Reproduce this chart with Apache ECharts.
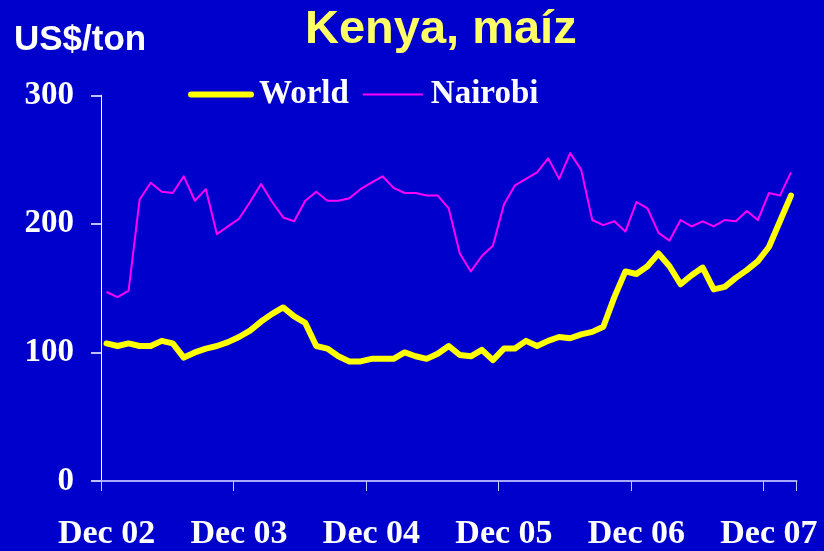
<!DOCTYPE html>
<html>
<head>
<meta charset="utf-8">
<script src="https://cdn.jsdelivr.net/npm/echarts@6/dist/echarts.min.js"></script>
<style>
html,body{margin:0;padding:0;background:#0000CC;}
#chart{width:824px;height:551px;}
</style>
</head>
<body>
<div id="chart"></div>
<script>
// Monthly categories Dec 02 .. Feb 08
var monthNames = ['Dec','Jan','Feb','Mar','Apr','May','Jun','Jul','Aug','Sep','Oct','Nov'];
var startYear = 2;
var categories = [];
for (var i = 0; i < 63; i++) {
  var yr = startYear + Math.floor((i + 11) / 12);
  categories.push(monthNames[i % 12] + ' ' + (yr < 10 ? '0' + yr : '' + yr));
}
categories[0] = 'Dec 02';

var worldValues = [
  107, 105, 107, 105, 105, 109, 107, 96, 100, 103, 105, 108,
  112, 117, 124, 130, 135, 128, 123, 105, 103, 97, 93, 93,
  95, 95, 95, 100, 97, 95, 99, 105, 98, 97, 102, 94,
  103, 103, 109, 105, 109, 112, 111, 114, 116, 120, 143, 163,
  161, 167, 177, 167, 153, 160, 166, 149, 151, 158, 164, 171,
  182, 202, 222
];
var nairobiValues = [
  147, 143, 148, 219, 232, 225, 224, 237, 218, 227, 192, 198,
  204, 217, 231, 217, 205, 202, 218, 225, 218, 218, 220, 227,
  232, 237, 228, 224, 224, 222, 222, 212, 177, 163, 175, 183,
  215, 230, 235, 240, 251, 235, 255, 242, 203, 199, 202, 194,
  217, 212, 193, 187, 203, 198, 202, 198, 203, 202, 210, 203,
  224, 222, 240
];
var yTicks = [0, 100, 200, 300];

var chart = echarts.init(document.getElementById('chart'), null, {renderer: 'canvas'});
chart.setOption({
  animation: false,
  backgroundColor: '#0000CC',
  title: [
    {
      text: 'Kenya, maíz', left: 305, top: 7, padding: 0,
      textStyle: {color: '#FFFF66', fontFamily: 'Liberation Sans, Arial, sans-serif', fontWeight: 'bold', fontSize: 47}
    },
    {
      text: 'US$/ton', left: 14, top: 23, padding: 0,
      textStyle: {color: '#FFFFFF', fontFamily: 'Liberation Sans, Arial, sans-serif', fontWeight: 'bold', fontSize: 35}
    }
  ],
  legend: {
    left: 188, top: 78, padding: 0,
    itemWidth: 60, itemHeight: 10, itemGap: 13,
    textStyle: {color: '#FFFFFF', fontFamily: 'Liberation Serif, Times New Roman, serif', fontWeight: 'bold', fontSize: 33, padding: [0, 0, 0, 3]},
    data: [
      {name: 'World', itemStyle: {color: 'rgba(0,0,0,0)', borderWidth: 0, opacity: 0}, lineStyle: {width: 6, cap: 'round', color: '#FFFF00'}},
      {name: 'Nairobi', itemStyle: {color: 'rgba(0,0,0,0)', borderWidth: 0, opacity: 0}, lineStyle: {width: 2, color: '#FF00FF'}}
    ]
  },
  grid: {left: 101, right: 27.5, top: 95.3, bottom: 69.6, containLabel: false},
  xAxis: {
    type: 'category',
    data: categories,
    boundaryGap: true,
    axisLine: {show: true, lineStyle: {color: '#A8A8FF', width: 2}},
    axisTick: {show: true, interval: 11, length: 10, inside: false, lineStyle: {color: '#C8C8FF', width: 1}},
    axisLabel: {
      interval: 11, margin: 36, color: '#FFFFFF',
      fontFamily: 'Liberation Serif, Times New Roman, serif', fontWeight: 'bold', fontSize: 34
    },
    splitLine: {show: false}
  },
  yAxis: {
    type: 'value',
    min: yTicks[0], max: yTicks[yTicks.length - 1], interval: 100,
    axisLine: {show: true, lineStyle: {color: '#FFFFFF', width: 1}},
    axisTick: {show: true, length: 10, lineStyle: {color: '#C0C0FF', width: 2}},
    axisLabel: {
      margin: 27, color: '#FFFFFF',
      fontFamily: 'Liberation Serif, Times New Roman, serif', fontWeight: 'bold', fontSize: 33
    },
    splitLine: {show: false}
  },
  series: [
    {
      name: 'World', type: 'line', data: worldValues, symbol: 'none', z: 2,
      lineStyle: {color: '#FFFF00', width: 6, cap: 'round', join: 'round'},
      itemStyle: {color: '#FFFF00'}
    },
    {
      name: 'Nairobi', type: 'line', data: nairobiValues, symbol: 'none', z: 3,
      lineStyle: {color: '#FF00FF', width: 2, join: 'round'},
      itemStyle: {color: '#FF00FF'}
    }
  ]
});
</script>
</body>
</html>
